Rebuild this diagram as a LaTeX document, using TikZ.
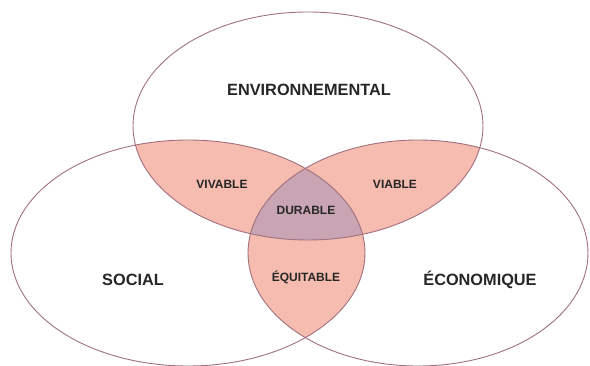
\documentclass[tikz,border=0pt]{standalone}
\usepackage{fontspec}
\setmainfont{Liberation Sans}
\begin{document}
\begin{tikzpicture}[x=1pt,y=-1pt,
  bigtxt/.style={font=\fontsize{16.3}{18}\selectfont\bfseries, text=black!85},
  smalltxt/.style={font=\fontsize{12}{14}\selectfont\bfseries, text=black!85},
  outline/.style={draw=ringcol, line width=0.9pt}]
\definecolor{pinkfill}{HTML}{F6BCAF}
\definecolor{triplefill}{HTML}{C9A4B3}
\definecolor{ringcol}{HTML}{A0707E}
\useasboundingbox (0,0) rectangle (590,366);
\def\envE{(308,126) ellipse [x radius=175, y radius=114]}
\def\socE{(188,253) ellipse [x radius=177, y radius=113]}
\def\ecoE{(418,253) ellipse [x radius=170, y radius=113]}
% pairwise intersections
\begin{scope}
  \clip \envE; \fill[pinkfill] \socE;
\end{scope}
\begin{scope}
  \clip \envE; \fill[pinkfill] \ecoE;
\end{scope}
\begin{scope}
  \clip \socE; \fill[pinkfill] \ecoE;
\end{scope}
\begin{scope}
  \clip \envE; \clip \socE; \fill[triplefill] \ecoE;
\end{scope}
% outlines
\draw[outline] \envE;
\draw[outline] \socE;
\draw[outline] \ecoE;
% labels
\node[bigtxt] (env) at (309,90) {ENVIRONNEMENTAL};
\node[bigtxt] (soc) at (133,280) {SOCIAL};
\node[bigtxt] (eco) at (480,280) {ÉCONOMIQUE};
\node[smalltxt] (viv) at (222,184) {VIVABLE};
\node[smalltxt] (via) at (395,184) {VIABLE};
\node[smalltxt] (dur) at (306,210) {DURABLE};
\node[smalltxt] (equ) at (306,277) {ÉQUITABLE};
\end{tikzpicture}
\end{document}
